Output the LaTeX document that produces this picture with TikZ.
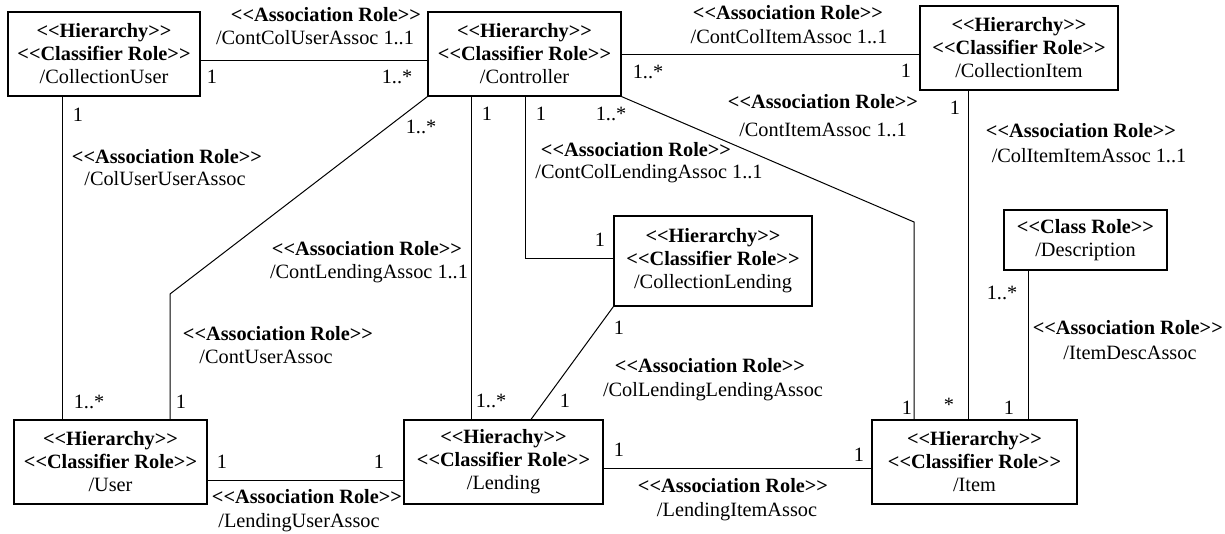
\documentclass[tikz,border=0pt]{standalone}
\usepackage{fontspec}
\setmainfont{Liberation Serif}
\newcommand{\stereo}[1]{\textbf{<{}<#1>{}>}}
\tikzset{
  box/.style={draw, line width=1.2pt, inner sep=0pt, align=center, font=\fontsize{20.3}{23}\selectfont},
  lbl/.style={inner sep=0pt, text height=13.5pt, text depth=0pt, font=\fontsize{20.3}{23}\selectfont},
  conn/.style={line width=1pt},
}
\begin{document}
\begin{tikzpicture}[x=1pt,y=-1pt]
\useasboundingbox (0,0) rectangle (1225,533);
% boxes
\node[box, minimum width=192pt, minimum height=84pt] (cu) at (104,54) {\stereo{Hierarchy}\\\stereo{Classifier Role}\\/CollectionUser};
\node[box, minimum width=193pt, minimum height=84pt] (ctrl) at (524.5,54) {\stereo{Hierarchy}\\\stereo{Classifier Role}\\/Controller};
\node[box, minimum width=198pt, minimum height=84pt] (ci) at (1019,48) {\stereo{Hierarchy}\\\stereo{Classifier Role}\\/CollectionItem};
\node[box, minimum width=198pt, minimum height=90pt] (cl) at (713,261) {\stereo{Hierarchy}\\\stereo{Classifier Role}\\/CollectionLending};
\node[box, minimum width=163pt, minimum height=60pt] (desc) at (1085.5,240) {\stereo{Class Role}\\/Description};
\node[box, minimum width=193pt, minimum height=84pt] (user) at (110.5,462) {\stereo{Hierarchy}\\\stereo{Classifier Role}\\/User};
\node[box, minimum width=199pt, minimum height=84pt] (lend) at (503.5,462) {\stereo{Hierachy}\\\stereo{Classifier Role}\\/Lending};
\node[box, minimum width=205pt, minimum height=84pt] (item) at (974.5,462) {\stereo{Hierarchy}\\\stereo{Classifier Role}\\/Item};
% bend points
\coordinate (b1) at (170,294);
\coordinate (b2) at (525,258);
\coordinate (b3) at (914,222);
% connectors
\draw[conn] ([yshift=-6pt]cu.east) -- ([yshift=-6pt]ctrl.west);
\draw[conn] (ctrl.east) -- (ctrl.east -| ci.west);
\draw[conn] ([xshift=-42pt]cu.south) -- ([xshift=-48.5pt]user.north);
\draw[conn] (ctrl.south west) -- (b1) -- (b1 |- user.north);
\draw[conn] ([xshift=-53.5pt]ctrl.south) -- ([xshift=-32.5pt]lend.north);
\draw[conn] ([xshift=0.5pt]ctrl.south) -- (b2) -- (b2 -| cl.west);
\draw[conn] (ctrl.south east) -- (b3) -- (b3 |- item.north);
\draw[conn] ([xshift=-51pt]ci.south) -- ([xshift=-6.5pt]item.north);
\draw[conn] ([xshift=-57.5pt]desc.south) -- ([xshift=53.5pt]item.north);
\draw[conn] (cl.south west) -- ([xshift=27.5pt]lend.north);
\draw[conn] ([yshift=-18pt]user.east) -- ([yshift=-18pt]lend.west);
\draw[conn] ([yshift=-6pt]lend.east) -- ([yshift=-6pt]item.west);
% association labels
\node[lbl] (a1b) at (326,15) {\stereo{Association Role}};
\node[lbl] (a1n) at (315,38) {/ContColUserAssoc 1..1};
\node[lbl] (a2b) at (788,13) {\stereo{Association Role}};
\node[lbl] (a2n) at (789,37) {/ContColItemAssoc 1..1};
\node[lbl] (a3b) at (823,102) {\stereo{Association Role}};
\node[lbl] (a3n) at (823,130) {/ContItemAssoc 1..1};
\node[lbl] (a4b) at (1081,131) {\stereo{Association Role}};
\node[lbl] (a4n) at (1089,156) {/ColItemItemAssoc 1..1};
\node[lbl] (a5b) at (167,157) {\stereo{Association Role}};
\node[lbl] (a5n) at (165,179) {/ColUserUserAssoc};
\node[lbl] (a6b) at (636,150) {\stereo{Association Role}};
\node[lbl] (a6n) at (649,172) {/ContColLendingAssoc 1..1};
\node[lbl] (a7b) at (367,249) {\stereo{Association Role}};
\node[lbl] (a7n) at (369,272) {/ContLendingAssoc 1..1};
\node[lbl] (a8b) at (278,334) {\stereo{Association Role}};
\node[lbl] (a8n) at (266,357) {/ContUserAssoc};
\node[lbl] (a9b) at (710,366) {\stereo{Association Role}};
\node[lbl] (a9n) at (713,390) {/ColLendingLendingAssoc};
\node[lbl, anchor=east] (a10b) at (1223,328) {\stereo{Association Role}};
\node[lbl] (a10n) at (1130,353) {/ItemDescAssoc};
\node[lbl] (a11b) at (307,497) {\stereo{Association Role}};
\node[lbl] (a11n) at (299,521) {/LendingUserAssoc};
\node[lbl] (a12b) at (733,486) {\stereo{Association Role}};
\node[lbl] (a12n) at (737,510) {/LendingItemAssoc};
% multiplicities
\node[lbl] (m1) at (212,77) {1};
\node[lbl] (m2) at (397,77) {1..*};
\node[lbl] (m3) at (648,72) {1..*};
\node[lbl] (m4) at (906,71) {1};
\node[lbl] (m5) at (78,115) {1};
\node[lbl] (m6) at (487,114) {1};
\node[lbl] (m7) at (541,114) {1};
\node[lbl] (m8) at (611,114) {1..*};
\node[lbl] (m9) at (421,127) {1..*};
\node[lbl] (m10) at (955,108) {1};
\node[lbl] (m11) at (600,240) {1};
\node[lbl] (m12) at (619,328) {1};
\node[lbl] (m13) at (1002,293) {1..*};
\node[lbl] (m14) at (89,402) {1..*};
\node[lbl] (m15) at (181,402) {1};
\node[lbl] (m16) at (491,401) {1..*};
\node[lbl] (m17) at (565,401) {1};
\node[lbl] (m18) at (907,408) {1};
\node[lbl] (m19) at (949,405) {*};
\node[lbl] (m20) at (1009,408) {1};
\node[lbl] (m21) at (222,462) {1};
\node[lbl] (m22) at (379,462) {1};
\node[lbl] (m23) at (619,450) {1};
\node[lbl] (m24) at (859,455) {1};
\end{tikzpicture}
\end{document}
